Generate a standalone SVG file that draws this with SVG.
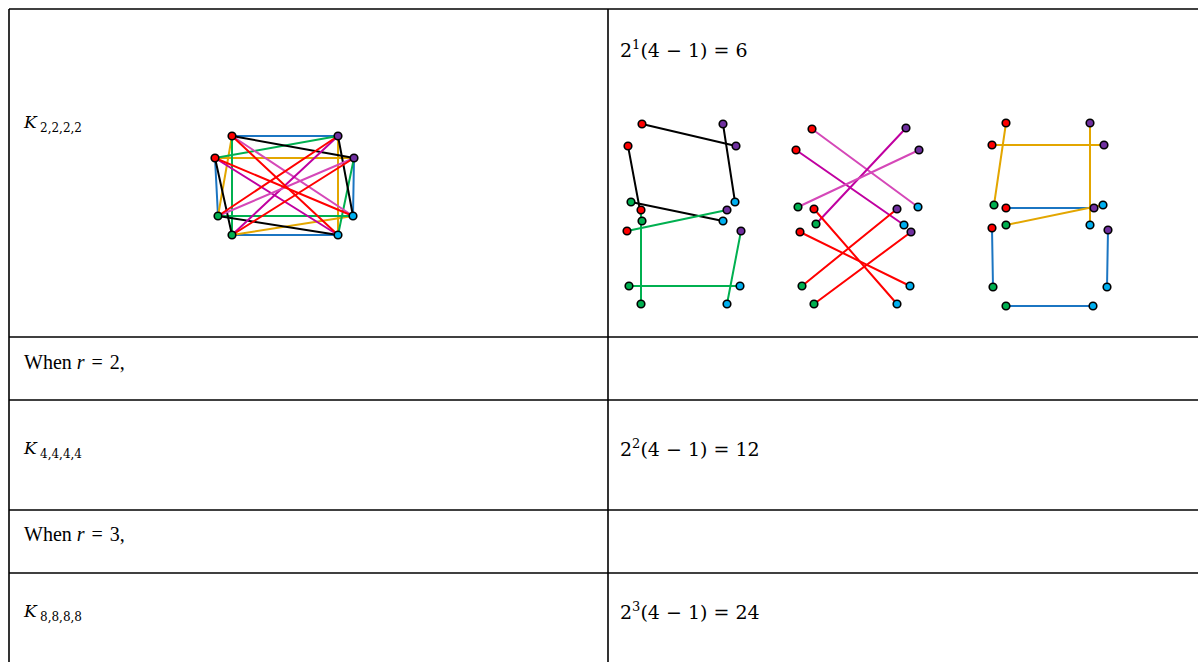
<svg xmlns="http://www.w3.org/2000/svg" width="1198" height="662" viewBox="0 0 1198 662">
<style>
.grid{stroke:#000;stroke-width:1.6;fill:none}
.t{font-family:"Liberation Serif","Times New Roman",serif;font-size:20px;fill:#000}
.m{font-family:"DejaVu Serif","Liberation Serif",serif;font-size:19px;fill:#000}
.k{font-family:"DejaVu Serif","Liberation Serif",serif;font-style:italic;font-size:17px;fill:#000}
.sub{font-style:normal;font-size:12px}
.e{stroke-width:2;fill:none;stroke-linecap:round}
.bk{stroke:#000}.gr{stroke:#00B050}.mg{stroke:#C000A0}.ml{stroke:#D548B8}.rd{stroke:#FF0000}.gd{stroke:#E3A600}.bl{stroke:#1B75C2}
.n{stroke:#000;stroke-width:1.6}
.R{fill:#FF0000}.P{fill:#7030A0}.G{fill:#00B050}.C{fill:#00B0F0}
</style>
<rect width="1198" height="662" fill="#fff"/>
<g id="table">
<line class="grid" x1="9" y1="9" x2="1198" y2="9"/>
<line class="grid" x1="9" y1="337" x2="1198" y2="337"/>
<line class="grid" x1="9" y1="400" x2="1198" y2="400"/>
<line class="grid" x1="9" y1="510" x2="1198" y2="510"/>
<line class="grid" x1="9" y1="573" x2="1198" y2="573"/>
<line class="grid" x1="9" y1="9" x2="9" y2="662"/>
<line class="grid" x1="608" y1="9" x2="608" y2="662"/>
</g>
<g id="labels">
<text class="k" x="24" y="128">K<tspan class="sub" x="40" y="132">2,2,2,2</tspan></text>
<text class="m" x="620" y="57">2<tspan font-size="13" dy="-8">1</tspan><tspan dy="8">(4 − 1) = 6</tspan></text>
<text class="t" x="24" y="369">When <tspan font-style="italic">r</tspan><tspan dx="2"> = </tspan><tspan dx="2">2,</tspan></text>
<text class="k" x="24" y="454">K<tspan class="sub" x="40" y="458">4,4,4,4</tspan></text>
<text class="m" x="620" y="456">2<tspan font-size="13" dy="-8">2</tspan><tspan dy="8">(4 − 1) = 12</tspan></text>
<text class="t" x="24" y="541">When <tspan font-style="italic">r</tspan><tspan dx="2"> = </tspan><tspan dx="2">3,</tspan></text>
<text class="k" x="24" y="617">K<tspan class="sub" x="40" y="621">8,8,8,8</tspan></text>
<text class="m" x="620" y="619">2<tspan font-size="13" dy="-8">3</tspan><tspan dy="8">(4 − 1) = 24</tspan></text>
</g>
<g id="connectors">
<g id="k2222-edges" class="e">
<line class="bl" x1="232" y1="136" x2="338" y2="136"/>
<line class="bl" x1="215" y1="158" x2="218" y2="216"/>
<line class="bl" x1="354" y1="158" x2="353" y2="216"/>
<line class="bl" x1="232" y1="235" x2="338" y2="235"/>
<line class="gd" x1="232" y1="136" x2="218" y2="216"/>
<line class="gd" x1="215" y1="158" x2="354" y2="158"/>
<line class="gd" x1="338" y1="136" x2="338" y2="235"/>
<line class="gd" x1="232" y1="235" x2="353" y2="216"/>
<line class="gr" x1="232" y1="136" x2="232" y2="235"/>
<line class="gr" x1="215" y1="158" x2="338" y2="136"/>
<line class="gr" x1="218" y1="216" x2="353" y2="216"/>
<line class="gr" x1="354" y1="158" x2="338" y2="235"/>
<line class="bk" x1="232" y1="136" x2="354" y2="158"/>
<line class="bk" x1="338" y1="136" x2="353" y2="216"/>
<line class="bk" x1="215" y1="158" x2="232" y2="235"/>
<line class="bk" x1="218" y1="216" x2="338" y2="235"/>
<line class="ml" x1="232" y1="136" x2="353" y2="216"/>
<line class="mg" x1="338" y1="136" x2="232" y2="235"/>
<line class="mg" x1="215" y1="158" x2="338" y2="235"/>
<line class="ml" x1="354" y1="158" x2="218" y2="216"/>
<line class="rd" x1="232" y1="136" x2="338" y2="235"/>
<line class="rd" x1="215" y1="158" x2="353" y2="216"/>
<line class="rd" x1="338" y1="136" x2="218" y2="216"/>
<line class="rd" x1="354" y1="158" x2="232" y2="235"/>
</g>
<g id="s1-edges" class="e">
<line class="bk" x1="642" y1="124" x2="736" y2="146"/>
<line class="bk" x1="723" y1="124" x2="735" y2="202"/>
<line class="bk" x1="628" y1="146" x2="642" y2="221"/>
<line class="bk" x1="631" y1="202" x2="723" y2="221"/>
<line class="gr" x1="641" y1="210" x2="641" y2="304"/>
<line class="gr" x1="627" y1="231" x2="727" y2="210"/>
<line class="gr" x1="629" y1="286" x2="740" y2="286"/>
<line class="gr" x1="741" y1="231" x2="727" y2="304"/>
</g>
<g id="s2-edges" class="e">
<line class="ml" x1="812" y1="129" x2="918" y2="207"/>
<line class="mg" x1="906" y1="128" x2="816" y2="224"/>
<line class="mg" x1="796" y1="150" x2="904" y2="225"/>
<line class="ml" x1="919" y1="150" x2="798" y2="207"/>
<line class="rd" x1="814" y1="209" x2="897" y2="304"/>
<line class="rd" x1="800" y1="232" x2="910" y2="286"/>
<line class="rd" x1="897" y1="209" x2="802" y2="286"/>
<line class="rd" x1="911" y1="232" x2="814" y2="304"/>
</g>
<g id="s3-edges" class="e">
<line class="bl" x1="1006" y1="208" x2="1094" y2="208"/>
<line class="bl" x1="992" y1="228" x2="993" y2="287"/>
<line class="bl" x1="1108" y1="230" x2="1107" y2="287"/>
<line class="bl" x1="1006" y1="306" x2="1093" y2="306"/>
<line class="gd" x1="1006" y1="123" x2="994" y2="205"/>
<line class="gd" x1="992" y1="145" x2="1104" y2="145"/>
<line class="gd" x1="1090" y1="123" x2="1090" y2="225"/>
<line class="gd" x1="1006" y1="225" x2="1103" y2="205"/>
</g>
</g>
<g id="k2222-nodes" class="n">
<circle class="R" cx="232" cy="136" r="3.8"/><circle class="P" cx="338" cy="136" r="3.8"/>
<circle class="R" cx="215" cy="158" r="3.8"/><circle class="P" cx="354" cy="158" r="3.8"/>
<circle class="G" cx="218" cy="216" r="3.8"/><circle class="C" cx="353" cy="216" r="3.8"/>
<circle class="G" cx="232" cy="235" r="3.8"/><circle class="C" cx="338" cy="235" r="3.8"/>
</g>
<g id="s1-nodes" class="n">
<circle class="R" cx="642" cy="124" r="3.8"/><circle class="P" cx="723" cy="124" r="3.8"/>
<circle class="R" cx="628" cy="146" r="3.8"/><circle class="P" cx="736" cy="146" r="3.8"/>
<circle class="G" cx="631" cy="202" r="3.8"/><circle class="C" cx="735" cy="202" r="3.8"/>
<circle class="G" cx="642" cy="221" r="3.8"/><circle class="C" cx="723" cy="221" r="3.8"/>
<circle class="R" cx="641" cy="210" r="3.8"/><circle class="P" cx="727" cy="210" r="3.8"/>
<circle class="R" cx="627" cy="231" r="3.8"/><circle class="P" cx="741" cy="231" r="3.8"/>
<circle class="G" cx="629" cy="286" r="3.8"/><circle class="C" cx="740" cy="286" r="3.8"/>
<circle class="G" cx="641" cy="304" r="3.8"/><circle class="C" cx="727" cy="304" r="3.8"/>
</g>
<g id="s2-nodes" class="n">
<circle class="R" cx="812" cy="129" r="3.8"/><circle class="P" cx="906" cy="128" r="3.8"/>
<circle class="R" cx="796" cy="150" r="3.8"/><circle class="P" cx="919" cy="150" r="3.8"/>
<circle class="G" cx="798" cy="207" r="3.8"/><circle class="C" cx="918" cy="207" r="3.8"/>
<circle class="G" cx="816" cy="224" r="3.8"/><circle class="C" cx="904" cy="225" r="3.8"/>
<circle class="R" cx="814" cy="209" r="3.8"/><circle class="P" cx="897" cy="209" r="3.8"/>
<circle class="R" cx="800" cy="232" r="3.8"/><circle class="P" cx="911" cy="232" r="3.8"/>
<circle class="G" cx="802" cy="286" r="3.8"/><circle class="C" cx="910" cy="286" r="3.8"/>
<circle class="G" cx="814" cy="304" r="3.8"/><circle class="C" cx="897" cy="304" r="3.8"/>
</g>
<g id="s3-nodes" class="n">
<circle class="R" cx="1006" cy="123" r="3.8"/><circle class="P" cx="1090" cy="123" r="3.8"/>
<circle class="R" cx="992" cy="145" r="3.8"/><circle class="P" cx="1104" cy="145" r="3.8"/>
<circle class="G" cx="994" cy="205" r="3.8"/><circle class="C" cx="1103" cy="205" r="3.8"/>
<circle class="G" cx="1006" cy="225" r="3.8"/><circle class="C" cx="1090" cy="225" r="3.8"/>
<circle class="R" cx="1006" cy="208" r="3.8"/><circle class="P" cx="1094" cy="208" r="3.8"/>
<circle class="R" cx="992" cy="228" r="3.8"/><circle class="P" cx="1108" cy="230" r="3.8"/>
<circle class="G" cx="993" cy="287" r="3.8"/><circle class="C" cx="1107" cy="287" r="3.8"/>
<circle class="G" cx="1006" cy="306" r="3.8"/><circle class="C" cx="1093" cy="306" r="3.8"/>
</g>
</svg>
